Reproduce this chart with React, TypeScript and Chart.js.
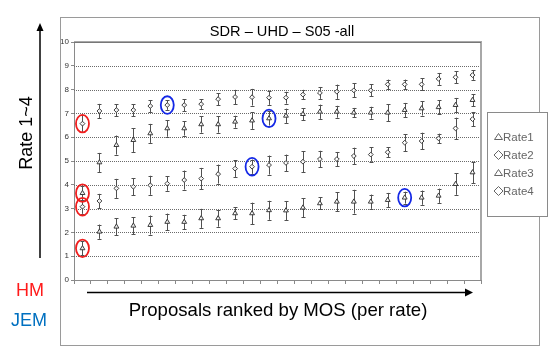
import React, { useEffect, useRef } from "react";
import { Chart, registerables } from "chart.js";

Chart.register(...registerables);

const FONT = "'Liberation Sans', Arial, sans-serif";

const proposals = ["1","2","3","4","5","6","7","8","9","10","11","12","13","14","15","16","17","18","19","20","21","22","23","24"];
const seriesNames = ["Rate1", "Rate2", "Rate3", "Rate4"];
const yTicks = [0, 1, 2, 3, 4, 5, 6, 7, 8, 9, 10];
const gridValues = [1, 2, 3, 4, 5, 6, 7, 8, 9];

const rate1 = [1.33, 2.03, 2.24, 2.28, 2.31, 2.44, 2.44, 2.59, 2.59, 2.8, 2.8, 2.93, 2.92, 3.04, 3.22, 3.29, 3.29, 3.29, 3.36, 3.46, 3.46, 3.54, 4.03, 4.52];
const rate2 = [3.08, 3.32, 3.85, 3.92, 3.98, 4.05, 4.2, 4.26, 4.45, 4.68, 4.76, 4.83, 4.92, 4.97, 5.08, 5.08, 5.21, 5.27, 5.37, 5.77, 5.84, 5.95, 6.37, 6.76];
const rate3 = [3.65, 4.94, 5.67, 5.88, 6.16, 6.37, 6.37, 6.54, 6.54, 6.65, 6.7, 6.79, 6.9, 6.97, 7.07, 7.07, 7.03, 7.03, 7.03, 7.14, 7.21, 7.26, 7.35, 7.56];
const rate4 = [6.57, 7.1, 7.14, 7.14, 7.31, 7.35, 7.35, 7.39, 7.6, 7.69, 7.68, 7.66, 7.66, 7.79, 7.86, 7.91, 7.97, 7.97, 8.22, 8.22, 8.22, 8.45, 8.52, 8.61];

const err1 = [0.3, 0.3, 0.35, 0.35, 0.4, 0.35, 0.3, 0.4, 0.35, 0.25, 0.45, 0.4, 0.4, 0.4, 0.25, 0.4, 0.5, 0.3, 0.3, 0.25, 0.3, 0.3, 0.45, 0.45];
const err2 = [0.3, 0.3, 0.4, 0.35, 0.4, 0.3, 0.4, 0.45, 0.4, 0.35, 0.3, 0.4, 0.35, 0.45, 0.35, 0.3, 0.35, 0.3, 0.2, 0.35, 0.35, 0.2, 0.45, 0.3];
const err3 = [0.3, 0.4, 0.4, 0.5, 0.4, 0.35, 0.3, 0.35, 0.35, 0.25, 0.35, 0.3, 0.3, 0.25, 0.3, 0.25, 0.2, 0.25, 0.35, 0.3, 0.3, 0.3, 0.3, 0.25];
const err4 = [0.35, 0.3, 0.25, 0.25, 0.25, 0.2, 0.25, 0.2, 0.25, 0.3, 0.35, 0.3, 0.25, 0.2, 0.25, 0.3, 0.3, 0.25, 0.2, 0.2, 0.25, 0.25, 0.25, 0.2];

const seriesValues = [rate1, rate2, rate3, rate4];
const seriesErrors = [err1, err2, err3, err4];
const seriesMarkers = ["triangle", "rectRot", "triangle", "rectRot"];

// highlighted points: [series index, proposal index]
const hmPoints = [[0, 0], [1, 0], [2, 0], [3, 0]];
const jemPoints = [[3, 5], [2, 11], [1, 10], [0, 19]];

const titleText = "SDR – UHD – S05 -all";
const yTitleText = "Rate 1~4";
const xTitleText = "Proposals ranked by MOS (per rate)";

const decor = {
  id: "decor",
  beforeDatasetsDraw(chart: any) {
    const { ctx, chartArea: a, scales } = chart;
    const x = scales.x;
    const y = scales.y;
    ctx.save();
    // dotted grid lines
    ctx.strokeStyle = "#6a6a6a";
    ctx.lineWidth = 1;
    ctx.setLineDash([1, 1]);
    for (const v of gridValues) {
      const py = Math.round(y.getPixelForValue(v)) + 0.5;
      ctx.beginPath();
      ctx.moveTo(a.left, py);
      ctx.lineTo(a.right, py);
      ctx.stroke();
    }
    ctx.setLineDash([]);
    // top & right border of plot
    ctx.strokeStyle = "#a8a8a8";
    ctx.lineWidth = 2;
    ctx.beginPath();
    ctx.moveTo(a.left, a.top);
    ctx.lineTo(a.right, a.top);
    ctx.lineTo(a.right, a.bottom);
    ctx.stroke();
    ctx.strokeStyle = "#777";
    ctx.lineWidth = 1;
    ctx.beginPath();
    ctx.moveTo(a.left, a.top + 0.5);
    ctx.lineTo(a.right, a.top + 0.5);
    ctx.stroke();
    // error bars
    ctx.strokeStyle = "#505050";
    ctx.lineWidth = 1;
    seriesValues.forEach((vals, si) => {
      const errs = seriesErrors[si];
      vals.forEach((v, i) => {
        const px = Math.round(x.getPixelForValue(i)) + 0.5;
        const yTop = y.getPixelForValue(v + errs[i]);
        const yBot = y.getPixelForValue(v - errs[i]);
        ctx.beginPath();
        ctx.moveTo(px, yTop);
        ctx.lineTo(px, yBot);
        ctx.moveTo(px - 2, Math.round(yTop) + 0.5);
        ctx.lineTo(px + 2, Math.round(yTop) + 0.5);
        ctx.moveTo(px - 2, Math.round(yBot) + 0.5);
        ctx.lineTo(px + 2, Math.round(yBot) + 0.5);
        ctx.stroke();
      });
    });
    ctx.restore();
  },
  afterDraw(chart: any) {
    const { ctx, scales } = chart;
    const x = scales.x;
    const y = scales.y;
    ctx.save();

    // ellipses
    const drawEllipses = (pts: number[][], color: string) => {
      ctx.strokeStyle = color;
      ctx.lineWidth = 1.8;
      for (const [si, i] of pts) {
        const px = x.getPixelForValue(i);
        const py = y.getPixelForValue(seriesValues[si][i]);
        ctx.beginPath();
        ctx.ellipse(px, py, 6.5, 8.8, 0, 0, Math.PI * 2);
        ctx.stroke();
      }
    };
    drawEllipses(hmPoints, "#f01e1e");
    drawEllipses(jemPoints, "#1428e6");

    // outer frame
    ctx.strokeStyle = "#9a9a9a";
    ctx.lineWidth = 1;
    ctx.strokeRect(60.5, 17.5, 479, 328);

    // title
    ctx.fillStyle = "#000";
    ctx.font = `14.6px ${FONT}`;
    ctx.textAlign = "center";
    ctx.textBaseline = "middle";
    ctx.fillText(titleText, 282, 32);

    // legend
    ctx.fillStyle = "#fff";
    ctx.fillRect(487.5, 112.5, 60, 104);
    ctx.strokeStyle = "#8a8a8a";
    ctx.strokeRect(487.5, 112.5, 60, 104);
    ctx.font = `11.5px ${FONT}`;
    ctx.textAlign = "left";
    ctx.fillStyle = "#666";
    ctx.strokeStyle = "#666";
    ctx.lineWidth = 1;
    seriesNames.forEach((name, k) => {
      const ly = 137 + k * 18;
      const cx = 498.5;
      ctx.beginPath();
      if (seriesMarkers[k] === "triangle") {
        ctx.moveTo(cx, ly - 3.5);
        ctx.lineTo(cx + 4, ly + 2.5);
        ctx.lineTo(cx - 4, ly + 2.5);
        ctx.closePath();
      } else {
        ctx.moveTo(cx, ly - 4.5);
        ctx.lineTo(cx + 4.5, ly);
        ctx.lineTo(cx, ly + 4.5);
        ctx.lineTo(cx - 4.5, ly);
        ctx.closePath();
      }
      ctx.stroke();
      ctx.fillText(name, 503, ly + 0.5);
    });

    // y arrow + title
    ctx.strokeStyle = "#000";
    ctx.fillStyle = "#000";
    ctx.lineWidth = 1.5;
    ctx.beginPath();
    ctx.moveTo(40, 258);
    ctx.lineTo(40, 30);
    ctx.stroke();
    ctx.beginPath();
    ctx.moveTo(40, 23);
    ctx.lineTo(36.5, 31);
    ctx.lineTo(43.5, 31);
    ctx.closePath();
    ctx.fill();

    ctx.save();
    ctx.translate(27, 133);
    ctx.rotate(-Math.PI / 2);
    ctx.font = `18px ${FONT}`;
    ctx.textAlign = "center";
    ctx.textBaseline = "middle";
    ctx.fillText(yTitleText, 0, 0);
    ctx.restore();

    // x arrow + title
    ctx.beginPath();
    ctx.moveTo(87, 292.5);
    ctx.lineTo(466, 292.5);
    ctx.stroke();
    ctx.beginPath();
    ctx.moveTo(473, 292.5);
    ctx.lineTo(465, 288.5);
    ctx.lineTo(465, 296.5);
    ctx.closePath();
    ctx.fill();

    ctx.font = `18.6px ${FONT}`;
    ctx.textAlign = "center";
    ctx.textBaseline = "middle";
    ctx.fillText(xTitleText, 278, 311);

    // HM / JEM
    ctx.font = `18px ${FONT}`;
    ctx.fillStyle = "#ff1a1a";
    ctx.fillText("HM", 30, 291);
    ctx.fillStyle = "#0070c0";
    ctx.fillText("JEM", 29, 321);

    ctx.restore();
  },
};

export default function App() {
  const ref = useRef<HTMLCanvasElement | null>(null);
  useEffect(() => {
    if (!ref.current) return;
    const chart = new Chart(ref.current, {
      type: "line",
      data: {
        labels: proposals,
        datasets: seriesValues.map((vals, k) => ({
          label: seriesNames[k],
          data: vals,
          showLine: false,
          pointStyle: seriesMarkers[k] as any,
          pointRadius: seriesMarkers[k] === "triangle" ? 2.8 : 2.4,
          pointBorderColor: "#3a3a3a",
          pointBackgroundColor: "rgba(255,255,255,0.9)",
          pointBorderWidth: 1,
        })),
      },
      options: {
        responsive: false,
        animation: false,
        devicePixelRatio: 1,
        layout: { padding: { left: 60, top: 42, right: 78, bottom: 0 } },
        plugins: { legend: { display: false }, tooltip: { enabled: false }, title: { display: false } },
        scales: {
          x: {
            type: "category",
            offset: true,
            grid: { offset: true, drawOnChartArea: false, drawTicks: true, tickLength: 4, tickColor: "#8a8a8a" },
            border: { display: true, color: "#8a8a8a", width: 1 },
            ticks: { display: false },
            afterFit: (s: any) => { s.height = 76; },
          },
          y: {
            min: 0,
            max: 10,
            afterBuildTicks: (s: any) => { s.ticks = yTicks.map((v) => ({ value: v })); },
            grid: { drawOnChartArea: false, drawTicks: true, tickLength: 3, tickColor: "#8a8a8a" },
            border: { display: true, color: "#8a8a8a", width: 1 },
            ticks: { font: { size: 8, family: FONT }, color: "#333", padding: 2 },
            afterFit: (s: any) => { s.width = 14; },
          },
        },
      },
      plugins: [decor],
    });
    return () => chart.destroy();
  }, []);
  return (
    <div style={{ position: "absolute", left: 0, top: 0, width: 559, height: 356, background: "#fff" }}>
      <canvas ref={ref} width={559} height={356} style={{ display: "block" }} />
    </div>
  );
}
